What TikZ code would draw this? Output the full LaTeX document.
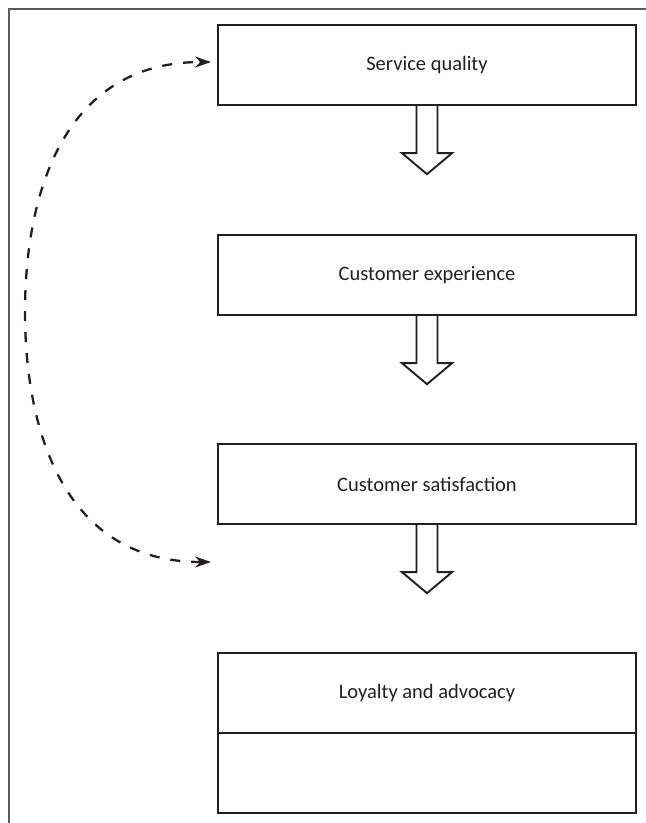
\documentclass[tikz,border=0pt]{standalone}
\usepackage{fontspec}
\setmainfont{Carlito}
\usetikzlibrary{arrows.meta}
\definecolor{ink}{HTML}{231F20}
\definecolor{framegray}{HTML}{5A5A5A}
\tikzset{
  box/.style={draw=ink, line width=2.3pt, minimum width=418pt, minimum height=80pt,
    inner sep=0pt, text=ink, font=\fontsize{20.5}{24}\selectfont},
  blockarrow/.style={draw=ink, line width=1.9pt, line join=miter, fill=white},
  loopline/.style={draw=ink, line width=2.3pt, dash pattern=on 10pt off 11pt,
    {Stealth[length=16pt,width=11pt]}-{Stealth[length=16pt,width=11pt]}},
  framelines/.style={draw=framegray, line width=1.1pt}
}
\begin{document}
\begin{tikzpicture}[x=1pt,y=-1pt]
\useasboundingbox (0,0) rectangle (646,823);
\draw[framelines] (9,823) -- (9,9) -- (646,9);

\node[box] (b1) at (427,65) {Service quality};
\node[box] (b2) at (427,275) {Customer experience};
\node[box] (b3) at (427,484) {Customer satisfaction};
\node[box] (b4) at (427,693) {Loyalty and advocacy};
\node[box] (b5) at (427,773) {};

\foreach \n in {b1,b2,b3}{
  \draw[blockarrow] ([xshift=-10.5pt]\n.south) -- ++(0,47) -- ++(-14.5,0) -- ++(25,21)
    -- ++(25,-21) -- ++(-14.5,0) -- ++(0,-47);
}

\coordinate (ctop) at (211,62);
\coordinate (cbot) at (211,562);
\coordinate (cmid) at (25,312);
\draw[loopline] (cbot) .. controls (60,562) and (25,424) .. (cmid)
  .. controls (25,200) and (60,62) .. (ctop);
\end{tikzpicture}
\end{document}
